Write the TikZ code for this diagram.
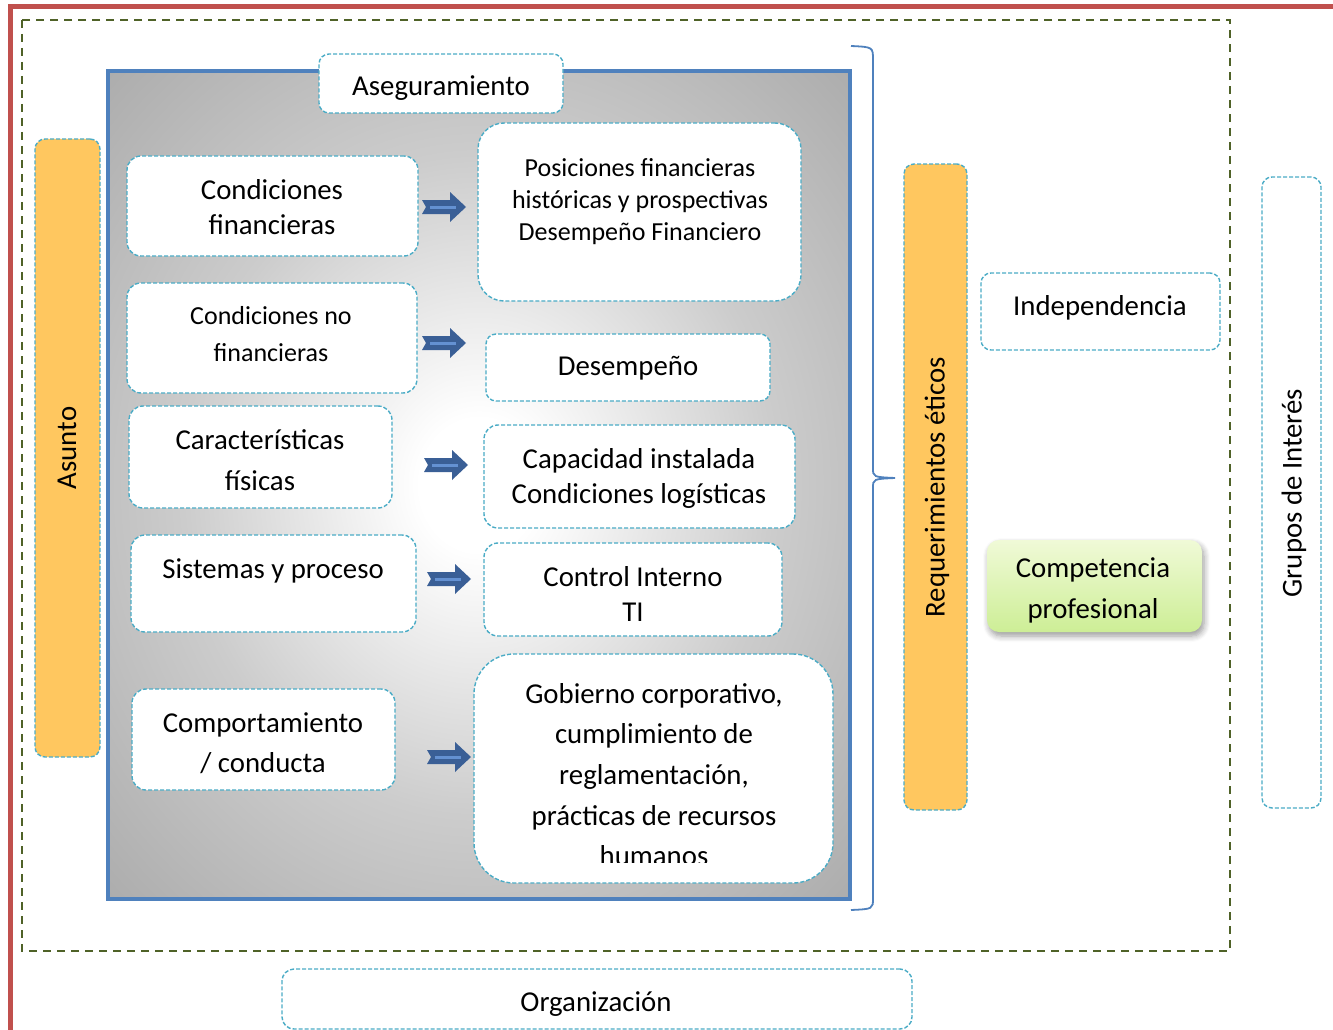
\documentclass[tikz,border=0pt]{standalone}
\usepackage{fontspec}
\setmainfont{Carlito}
\usetikzlibrary{shadows.blur}
\definecolor{dcyan}{RGB}{75,172,198}
\definecolor{olivegr}{RGB}{79,98,40}
\definecolor{pblue}{RGB}{79,129,189}
\definecolor{redb}{RGB}{192,80,77}
\definecolor{orng}{RGB}{255,199,95}
\definecolor{arrdark}{RGB}{58,95,150}
\definecolor{arrlight}{RGB}{100,145,210}
\definecolor{greenlt}{RGB}{240,250,215}
\definecolor{greendk}{RGB}{205,238,150}
\pgfdeclareradialshading{panelshade}{\pgfpoint{0bp}{0bp}}{color(0bp)=(white); color(4bp)=(white); color(20bp)=(black!20); color(40bp)=(black!36); color(50bp)=(black!41); color(71bp)=(black!44)}
\tikzset{
  dbox/.style={draw=dcyan, line width=1.4pt, dash pattern=on 4pt off 2pt, fill=white, rounded corners=14pt, inner sep=0pt},
  obox/.style={dbox, fill=orng, rounded corners=10pt},
  txt/.style={inner sep=0pt, align=center, font=\fontsize{28.8}{35}\selectfont},
  stxt/.style={inner sep=0pt, align=center, font=\fontsize{26}{32}\selectfont},
  barrow/.pic={
    \fill[arrdark] (-22,-7) -- (6,-7) -- (6,-15) -- (22,0) -- (6,15) -- (6,7) -- (-22,7) -- (-18,0) -- cycle;
    \draw[arrlight, line width=3pt] (-14,0) -- (12,0);
  }
}
\begin{document}
\begin{tikzpicture}[x=1pt,y=-1pt]
\useasboundingbox (0,0) rectangle (1333,1030);
% red frame
\draw[redb, line width=5pt] (10.5,1030) -- (10.5,6.5) -- (1333,6.5);
% olive dashed frame
\draw[olivegr, line width=2pt, dash pattern=on 8pt off 6pt] (22,20) rectangle (1230,951);
% panel
\node[draw=pblue, line width=4pt, shading=panelshade, minimum width=742pt, minimum height=828pt, inner sep=0pt] (panel) at (479,485) {};
% brace
\draw[pblue, line width=1.8pt] (851,46) .. controls (873,47) .. (873,60) -- (873,468) .. controls (873,477) .. (895,478)
  .. controls (873,479) .. (873,488) -- (873,898) .. controls (873,909) .. (851,910);
% Aseguramiento
\node[dbox, rounded corners=10pt, minimum width=244pt, minimum height=59pt] (aseg) at (441,83.5) {};
\node[txt] (asegt) at (441,88) {Aseguramiento};
% left column
\node[dbox, minimum width=291pt, minimum height=100pt] (cf) at (272.5,206) {};
\node[txt] (cft) at (272,207) {Condiciones\\financieras};
\node[dbox, minimum width=290pt, minimum height=110pt] (cnf) at (272,338) {};
\node[stxt, font=\fontsize{26}{37}\selectfont] (cnft) at (271,334) {Condiciones no\\financieras};
\node[dbox, minimum width=263pt, minimum height=102pt] (cfis) at (260.5,457) {};
\node[txt, font=\fontsize{28.8}{41}\selectfont] (cfist) at (260,460) {Características\\físicas};
\node[dbox, minimum width=285pt, minimum height=97pt] (sp) at (273.5,583.5) {};
\node[txt] (spt) at (273,571) {Sistemas y proceso};
\node[dbox, minimum width=263pt, minimum height=101pt] (cc) at (263.5,739.5) {};
\node[txt, font=\fontsize{28.8}{40}\selectfont] (cct) at (263,743) {Comportamiento\\/ conducta};
% right column
\node[dbox, rounded corners=26pt, minimum width=323pt, minimum height=178pt] (pos) at (639.5,212) {};
\node[stxt] (post) at (640,202) {Posiciones financieras\\históricas y prospectivas\\Desempeño Financiero};
\node[dbox, rounded corners=10pt, minimum width=284pt, minimum height=67pt] (des) at (628,367.5) {};
\node[txt] (dest) at (628,368) {Desempeño};
\node[dbox, minimum width=311pt, minimum height=103pt] (cap) at (639.5,476.5) {};
\node[txt] (capt) at (639,478) {Capacidad instalada\\Condiciones logísticas};
\node[dbox, minimum width=298pt, minimum height=93pt] (ci) at (633,589.5) {};
\node[txt] (cit) at (633,594) {Control Interno\\TI};
\node[dbox, rounded corners=40pt, minimum width=359pt, minimum height=229pt] (gob) at (653.5,768.5) {};
\begin{scope}
\clip (474,654) rectangle (833,862);
\node[txt, font=\fontsize{28.8}{40.6}\selectfont, anchor=north] (gobt) at (654,683) {Gobierno corporativo,\\cumplimiento de\\reglamentación,\\prácticas de recursos\\humanos};
\end{scope}
% arrows
\pic at (444,207) {barrow};
\pic at (444,343) {barrow};
\pic at (446,465) {barrow};
\pic at (449,579) {barrow};
\pic at (449,757) {barrow};
% side bars
\node[obox, minimum width=65pt, minimum height=618pt] (asu) at (67.5,448) {};
\node[txt, rotate=90] (asut) at (67,448) {Asunto};
\node[obox, minimum width=63pt, minimum height=646pt] (req) at (935.5,487) {};
\node[txt, rotate=90] (reqt) at (937,487) {Requerimientos éticos};
\node[dbox, rounded corners=10pt, minimum width=59pt, minimum height=631pt] (gru) at (1291.5,492.5) {};
\node[txt, rotate=90] (grut) at (1294,493) {Grupos de Interés};
% right boxes
\node[dbox, rounded corners=10pt, minimum width=239pt, minimum height=77pt] (ind) at (1100.5,311.5) {};
\node[txt] (indt) at (1100,308) {Independencia};
\node[rounded corners=12pt, top color=greenlt, bottom color=greendk, minimum width=215pt, minimum height=92pt, inner sep=0pt,
  blur shadow={shadow xshift=2pt, shadow yshift=-4pt, shadow blur steps=6, shadow blur radius=6pt}] (comp) at (1094.5,586) {};
\node[txt, font=\fontsize{28.8}{41}\selectfont] (compt) at (1093,590) {Competencia\\profesional};
% bottom
\node[dbox, rounded corners=12pt, minimum width=630pt, minimum height=60pt] (org) at (597,999) {};
\node[txt] (orgt) at (596,1004) {Organización};
\end{tikzpicture}
\end{document}
